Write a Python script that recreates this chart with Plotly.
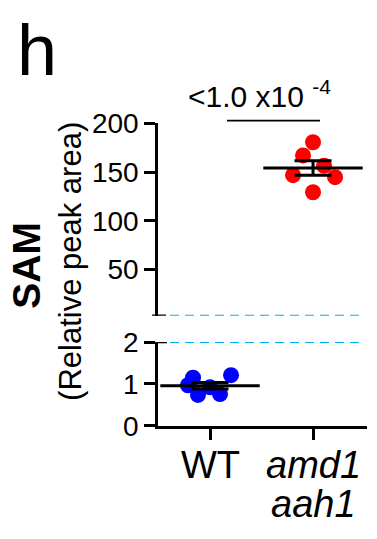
import plotly.graph_objects as go
import numpy as np

# ---- data ----
categories = ["WT", "amd1 aah1"]
category_lines = [["WT"], ["amd1", "aah1"]]
wt_values = [1.15, 0.97, 0.74, 0.92, 0.76, 1.21]
wt_jitter = [-0.165, -0.214, -0.117, 0.0, 0.097, 0.204]
mut_values = [180.6, 167.1, 156.4, 146.8, 144.8, 129.3]
mut_jitter = [0.0, -0.097, 0.107, -0.194, 0.214, 0.0]
lower_ticks = [0, 1, 2]
upper_ticks = [50, 100, 150, 200]
p_text = "<1.0 x10 <sup>-4</sup>"

W, H = 377, 539
FONT = "Arial, Liberation Sans, sans-serif"


def py(px):
    return 1 - px / H


def pxx(px):
    return px / W


def mean_sem(v):
    a = np.array(v, dtype=float)
    return a.mean(), a.std(ddof=1) / np.sqrt(len(a))


wt_mean, wt_sem = mean_sem(wt_values)
mut_mean, mut_sem = mean_sem(mut_values)

fig = go.Figure()

fig.add_trace(go.Scatter(
    x=[0 + j for j in wt_jitter], y=wt_values, mode="markers",
    marker=dict(color="#0000FF", size=16, line=dict(width=0)),
    xaxis="x", yaxis="y", showlegend=False, hoverinfo="skip"))
fig.add_trace(go.Scatter(
    x=[1 + j for j in mut_jitter], y=mut_values, mode="markers",
    marker=dict(color="#FF0000", size=16, line=dict(width=0)),
    xaxis="x", yaxis="y2", showlegend=False, hoverinfo="skip"))

for xi, m, s, ax in [(0, wt_mean, wt_sem, "y"), (1, mut_mean, mut_sem, "y2")]:
    fig.add_trace(go.Scatter(
        x=[xi], y=[m], mode="markers",
        marker=dict(symbol="line-ew", size=71, color="black",
                    line=dict(width=3, color="black")),
        error_y=dict(type="data", array=[s], color="black", thickness=3, width=18.5),
        xaxis="x", yaxis=ax, showlegend=False, hoverinfo="skip"))

axis_common = dict(showline=True, linecolor="black", linewidth=2.5, ticks="outside",
                   ticklen=11, tickwidth=2.5, tickcolor="black", showgrid=False,
                   zeroline=False, tickfont=dict(family=FONT, size=28, color="black"))

lower_top = py(347)
lower_bot = py(436)
upper_top = py(115)
upper_bot = py(319)
y2_min = 200 - (200 - 50) * (319 - 115) / (270 - 115)

fig.update_layout(
    width=W, height=H, margin=dict(l=0, r=0, t=0, b=0),
    paper_bgcolor="white", plot_bgcolor="white",
    xaxis=dict(domain=[pxx(158), pxx(367)], range=[-0.505, 1.524], anchor="y",
               tickvals=[0, 1], showticklabels=False, **axis_common),
    yaxis=dict(domain=[lower_bot, lower_top], range=[0, 2], tickvals=lower_ticks,
               anchor="x", **axis_common),
    yaxis2=dict(domain=[upper_bot, upper_top], range=[y2_min, 200], tickvals=upper_ticks,
                anchor="x", **axis_common),
)

shapes = []
# cyan dashed break guides
for yref, yv in [("y", 2), ("y2", y2_min)]:
    shapes.append(dict(type="line", xref="paper", yref=yref, x0=pxx(170), x1=pxx(362), y0=yv, y1=yv,
                       line=dict(color="#00B0F0", width=2, dash="9px,6px")))
# axis break caps
shapes.append(dict(type="line", xref="paper", yref="y", x0=pxx(147), x1=pxx(167), y0=2, y1=2,
                   line=dict(color="black", width=2.5)))
shapes.append(dict(type="line", xref="paper", yref="y2", x0=pxx(152), x1=pxx(166), y0=y2_min, y1=y2_min,
                   line=dict(color="black", width=2.5)))
# significance line
shapes.append(dict(type="line", xref="x", yref="paper", x0=0.165, x1=1.068, y0=py(112), y1=py(112),
                   line=dict(color="black", width=1.8)))
fig.update_layout(shapes=shapes)

ann = []
ann.append(dict(text="h", x=pxx(15), y=py(37.5), xref="paper", yref="paper", xanchor="left",
                yanchor="middle", showarrow=False, font=dict(family=FONT, size=72, color="black")))
ann.append(dict(text=p_text, x=pxx(259), y=py(84), xref="paper", yref="paper", xanchor="center",
                yanchor="middle", showarrow=False, font=dict(family=FONT, size=30, color="black")))
ann.append(dict(text="<b>SAM</b>", x=pxx(27), y=py(266), xref="paper", yref="paper",
                xanchor="center", yanchor="middle", textangle=-90, showarrow=False,
                font=dict(family=FONT, size=39, color="black")))
ann.append(dict(text="(Relative peak area)", x=pxx(71), y=py(262), xref="paper", yref="paper",
                xanchor="center", yanchor="middle", textangle=-90, showarrow=False,
                font=dict(family=FONT, size=31, color="black")))
line_y = [py(477), py(519)]
for ci, lines in enumerate(category_lines):
    for li, t in enumerate(lines):
        txt = t if ci == 0 else "<i>" + t + "</i>"
        ann.append(dict(text=txt, x=ci, y=line_y[li], xref="x", yref="paper",
                        xanchor="center", yanchor="middle", showarrow=False,
                        font=dict(family=FONT, size=38, color="black")))
fig.update_layout(annotations=ann)

fig.write_html("out.html", config={"displayModeBar": False},
               post_script="document.body.style.margin='0px';")
